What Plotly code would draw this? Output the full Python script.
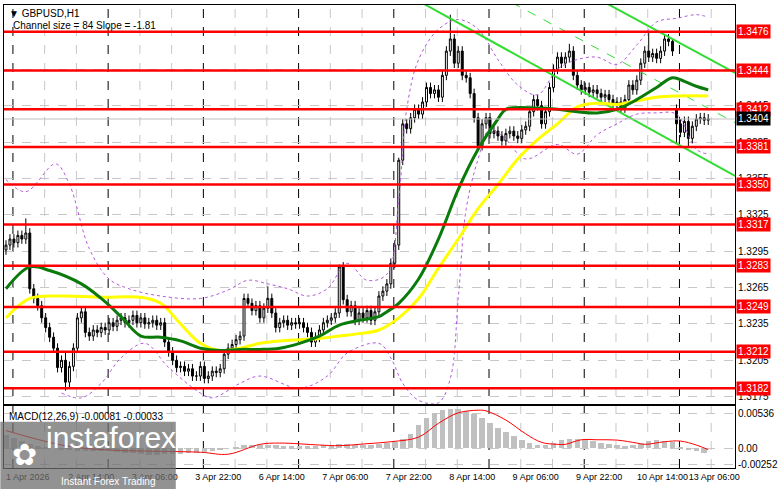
import plotly.graph_objects as go
from plotly.subplots import make_subplots

# hourly closes, one per bar (bar index = position on the chart)
closes = [
    1.3300, 1.3305, 1.3302, 1.3308, 1.3305, 1.3310, 1.3264, 1.3256, 1.3250, 1.3240,
    1.3232, 1.3224, 1.3215, 1.3199, 1.3205, 1.3187, 1.3200, 1.3215, 1.3240, 1.3245,
    1.3228, 1.3225, 1.3230, 1.3228, 1.3232, 1.3230, 1.3236, 1.3233, 1.3238, 1.3240,
    1.3236, 1.3238, 1.3242, 1.3236, 1.3240, 1.3235, 1.3236, 1.3238, 1.3234, 1.3236,
    1.3220, 1.3212, 1.3205, 1.3199, 1.3200, 1.3196, 1.3198, 1.3192, 1.3192, 1.3200,
    1.3190, 1.3192, 1.3196, 1.3195, 1.3198, 1.3210, 1.3215, 1.3218, 1.3222, 1.3225,
    1.3256, 1.3252, 1.3246, 1.3250, 1.3240, 1.3248, 1.3256, 1.3244, 1.3232, 1.3236,
    1.3238, 1.3234, 1.3236, 1.3235, 1.3236, 1.3232, 1.3228, 1.3220, 1.3224, 1.3230,
    1.3236, 1.3238, 1.3240, 1.3244, 1.3282, 1.3255, 1.3245, 1.3250, 1.3238, 1.3244,
    1.3240, 1.3246, 1.3238, 1.3245, 1.3258, 1.3262, 1.3268, 1.3285, 1.3300, 1.3370,
    1.3400, 1.3396, 1.3405, 1.3412, 1.3408, 1.3418, 1.3430, 1.3425, 1.3428, 1.3422,
    1.3440, 1.3460, 1.3470, 1.3450, 1.3460, 1.3440, 1.3438, 1.3425, 1.3405, 1.3382,
    1.3400, 1.3405, 1.3392, 1.3394, 1.3390, 1.3386, 1.3392, 1.3394, 1.3390, 1.3388,
    1.3395, 1.3398, 1.3410, 1.3420, 1.3415, 1.3400, 1.3410, 1.3430, 1.3445, 1.3455,
    1.3450, 1.3455, 1.3460, 1.3440, 1.3432, 1.3428, 1.3430, 1.3426, 1.3428, 1.3425,
    1.3422, 1.3424, 1.3420, 1.3416, 1.3418, 1.3413, 1.3420, 1.3432, 1.3428, 1.3436,
    1.3450, 1.3460, 1.3455, 1.3458, 1.3454, 1.3460, 1.3470, 1.3468, 1.3460, 1.3400,
    1.3393, 1.3402, 1.3388, 1.3398, 1.3404, 1.3405, 1.3403, 1.3404,
]
first_open = 1.3296
gap_open = {169: 1.3412}
wick = 0.0004
high_over = {5: 1.3322, 15: 1.3212, 66: 1.3266, 84: 1.3284, 112: 1.3490, 142: 1.3466,
             162: 1.3476, 168: 1.3470, 99: 1.3372}
low_over = {15: 1.3180, 50: 1.3186, 119: 1.3378, 169: 1.3384, 172: 1.3380}

ma_green_x = [0, 6, 11, 19, 24, 29, 34, 39, 44, 49, 54, 59, 64, 69, 74, 79, 84, 89, 94, 96, 99,
              104, 109, 114, 119, 124, 126, 134, 139, 144, 149, 154, 159, 164, 168, 171, 174, 177]
ma_green = [1.3264, 1.3282, 1.3279, 1.3268, 1.3256, 1.3241, 1.3225, 1.3224, 1.3221, 1.3215,
            1.3213, 1.3214, 1.3214, 1.3215, 1.3219, 1.3225, 1.3234, 1.3238, 1.3241, 1.3245,
            1.3252, 1.3272, 1.3305, 1.3346, 1.3379, 1.3404, 1.3412, 1.3413, 1.3412, 1.3410,
            1.3409, 1.3412, 1.3420, 1.3430, 1.3438, 1.3435, 1.3431, 1.3428]
ma_yellow_x = [0, 6, 14, 24, 34, 39, 44, 49, 54, 59, 64, 69, 74, 79, 84, 89, 94, 99, 104, 109,
               114, 119, 124, 129, 134, 139, 144, 149, 154, 159, 164, 169, 177]
ma_yellow = [1.3240, 1.3256, 1.3258, 1.3257, 1.3257, 1.3252, 1.3235, 1.3219, 1.3213, 1.3215,
             1.3219, 1.3221, 1.3222, 1.3223, 1.3225, 1.3227, 1.3230, 1.3240, 1.3256, 1.3281,
             1.3305, 1.3330, 1.3350, 1.3371, 1.3387, 1.3400, 1.3414, 1.3417, 1.3416, 1.3419,
             1.3422, 1.3423, 1.3423]
bb_up_x = [0, 5, 12.5, 16, 21, 26, 31, 39, 49, 56, 61, 66, 71, 76, 81, 86, 91, 96, 99, 101, 104,
           109, 114, 119, 124, 129, 134, 139, 144, 149, 154, 159, 164, 169, 174, 177]
bb_up = [1.3354, 1.3344, 1.3367, 1.3350, 1.3297, 1.3272, 1.3264, 1.3258, 1.3256, 1.3263, 1.3271,
         1.3268, 1.3264, 1.3258, 1.3264, 1.3285, 1.3271, 1.3276, 1.3338, 1.3412, 1.3453, 1.3478,
         1.3486, 1.3478, 1.3453, 1.3432, 1.3424, 1.3445, 1.3453, 1.3455, 1.3449, 1.3465, 1.3484,
         1.3487, 1.3490, 1.3488]
bb_lo_x = [14, 19, 24, 29, 35, 41, 49, 52, 59, 64, 74, 81, 86, 94, 97, 100, 104, 109, 112, 114,
           116, 119, 122, 126, 131, 139, 144, 149, 154, 159, 164, 169, 174, 177]
bb_lo = [1.3178, 1.3174, 1.3186, 1.3207, 1.3219, 1.3199, 1.3178, 1.3174, 1.3186, 1.3192, 1.3182,
         1.3192, 1.3211, 1.3219, 1.3207, 1.3186, 1.3172, 1.3170, 1.3190, 1.3256, 1.3330, 1.3371,
         1.3396, 1.3387, 1.3371, 1.3383, 1.3375, 1.3391, 1.3400, 1.3408, 1.3409, 1.3408, 1.3379,
         1.3375]

# channel lines: (bar, price) endpoints
chan_lower = [(104.75, 1.3500), (183.75, 1.3357)]
chan_upper = [(151.0, 1.3500), (183.75, 1.3442)]
chan_mid = [(127.5, 1.3500), (183.75, 1.3401)]

levels = [1.3476, 1.3444, 1.3412, 1.3381, 1.3350, 1.3317, 1.3283, 1.3249, 1.3212, 1.3182]
last_price = 1.3404

# MACD histogram every 2 bars, in 1e-4
macd_hist = [20, 15, 10, 6, 3, 1, 0, -2, -3, -4, -4, -4, -5, -5, -6, -7, -8, -9, -10, -10, -9,
             -9, -9, -8, -7, -6, -4, -2, 0, 2, 4,
             5, 5, 5, 4, 3, 3, 3, 3, 3, 4,
             5, 6, 6, 5, 5, 5, 6, 7, 9,
             14, 22, 35, 46, 54, 58, 59, 59, 57, 52, 45, 38, 30, 24, 18, 12, 8, 5, 5, 8,
             12, 13, 13, 12, 10, 8, 6, 4, 3, 4, 8, 11, 12, 11, 9, 1, -3, -5, -8]
sig_x = [0, 14, 24, 49, 56, 64, 69, 79, 84, 91, 97, 104, 109, 114, 119, 121, 126, 131, 135, 139,
         141, 145, 149, 154, 159, 161, 166, 170, 174, 177]
sig = [27, 5, -2, -6, -9, 6, 8, 5, 4, 7, 10, 17, 38, 54, 58, 57, 43, 22, 9, 6, 6, 13, 13, 12.5,
       8, 6, 10, 11, 5, -2]

tick_bars = [5.5, 21.5, 37.5, 53.5, 69.5, 85.5, 101.5, 117.5, 133.5, 149.5, 165.5, 178.5]
tick_text = ["1 Apr 2026", "2 Apr 14:00", "3 Apr 06:00", "3 Apr 22:00", "6 Apr 14:00",
             "7 Apr 06:00", "7 Apr 22:00", "8 Apr 14:00", "9 Apr 06:00", "9 Apr 22:00",
             "10 Apr 14:00", "13 Apr 06:00"]

# build OHLC
bars = list(range(len(closes)))
opens, highs, lows = [], [], []
prev = first_open
for i, c in enumerate(closes):
    o = gap_open.get(i, prev)
    opens.append(o)
    highs.append(high_over.get(i, max(o, c) + wick))
    lows.append(low_over.get(i, min(o, c) - wick))
    prev = c

FONT = 'Liberation Sans'

fig = make_subplots(rows=2, cols=1, shared_xaxes=True, vertical_spacing=0.005,
                    row_heights=[0.866, 0.134])

fig.add_trace(go.Scatter(x=bb_up_x, y=bb_up, mode='lines', line=dict(color='#b45adc', width=1, dash='dot', shape='spline')), 1, 1)
fig.add_trace(go.Scatter(x=bb_lo_x, y=bb_lo, mode='lines', line=dict(color='#b45adc', width=1, dash='dot', shape='spline')), 1, 1)

for lv in levels:
    fig.add_hline(y=lv, line=dict(color='#ff0000', width=2.5), row=1, col=1)
fig.add_hline(y=last_price, line=dict(color='#c0c0c0', width=1), row=1, col=1)

for pts, dash, w in [(chan_lower, 'solid', 2), (chan_upper, 'solid', 2), (chan_mid, 'dash', 1)]:
    fig.add_trace(go.Scatter(x=[p[0] for p in pts], y=[p[1] for p in pts], mode='lines',
                             line=dict(color='#32dc32', width=w, dash=dash)), 1, 1)

fig.add_trace(go.Scatter(x=ma_yellow_x, y=ma_yellow, mode='lines', line=dict(color='#ffff00', width=3, shape='spline')), 1, 1)
fig.add_trace(go.Scatter(x=ma_green_x, y=ma_green, mode='lines', line=dict(color='#0a7a0a', width=3, shape='spline')), 1, 1)

fig.add_trace(go.Candlestick(x=bars, open=opens, high=highs, low=lows, close=closes,
                             increasing=dict(line=dict(color='black', width=1), fillcolor='white'),
                             decreasing=dict(line=dict(color='black', width=1), fillcolor='black'),
                             whiskerwidth=0), 1, 1)

fig.add_trace(go.Bar(x=[2 * k for k in range(len(macd_hist))], y=[v / 10000 for v in macd_hist],
                     marker=dict(color='#c0c0c0', line_width=0), width=1.4), 2, 1)
fig.add_trace(go.Scatter(x=sig_x, y=[v / 10000 for v in sig], mode='lines',
                         line=dict(color='#ff0000', width=1, shape='spline')), 2, 1)

# vertical grid
shapes = []
for k in range(23):
    xb = 1.75 + 8 * k
    dark = (k % 3 == 0)
    shapes.append(dict(type='line', xref='x', yref='paper', x0=xb, x1=xb, y0=0, y1=1,
                       line=dict(color='black' if dark else '#c8c8c8', width=1, dash='dash'),
                       layer='below'))
# watermark box
shapes.append(dict(type='rect', xref='paper', yref='paper', x0=-0.005, x1=0.235, y0=-0.06, y1=0.1,
                   fillcolor='rgba(110,110,110,0.75)', line_width=0))
fig.update_layout(shapes=fig.layout.shapes + tuple(shapes))

annotations = []
for lv in levels:
    annotations.append(dict(x=1.002, xref='paper', y=lv, yref='y', text=f"{lv:.4f}", showarrow=False,
                            xanchor='left', bgcolor='#ff0000', font=dict(color='white', size=10, family=FONT),
                            borderpad=1))
annotations.append(dict(x=1.002, xref='paper', y=last_price, yref='y', text=f"{last_price:.4f}", showarrow=False,
                        xanchor='left', bgcolor='black', font=dict(color='white', size=10, family=FONT),
                        borderpad=1))
annotations += [
    dict(x=0.004, y=0.998, xref='paper', yref='paper', text="▼ GBPUSD,H1", showarrow=False,
         xanchor='left', yanchor='top', font=dict(size=10, color='black', family=FONT)),
    dict(x=0.01, y=0.972, xref='paper', yref='paper', text="Channel size = 84 Slope = -1.81", showarrow=False,
         xanchor='left', yanchor='top', font=dict(size=10, color='black', family=FONT)),
    dict(x=0.004, y=0.128, xref='paper', yref='paper', text="MACD(12,26,9) -0.00081 -0.00033", showarrow=False,
         xanchor='left', yanchor='top', font=dict(size=10, color='black', family=FONT)),
    dict(x=0.055, y=0.065, xref='paper', yref='paper', text="instaforex", showarrow=False,
         xanchor='left', yanchor='middle', font=dict(size=30, color='white', family=FONT)),
    dict(x=0.075, y=-0.03, xref='paper', yref='paper', text="Instant Forex Trading", showarrow=False,
         xanchor='left', yanchor='middle', font=dict(size=10, color='white', family=FONT)),
    dict(x=0.028, y=0.03, xref='paper', yref='paper', text="✿", showarrow=False,
         xanchor='center', yanchor='middle', font=dict(size=30, color='white')),
]
fig.update_layout(annotations=annotations)

axis_common = dict(showline=True, linecolor='black', linewidth=1, mirror=True, zeroline=False)
fig.update_xaxes(range=[-0.5, 183.75], showgrid=False, rangeslider_visible=False, **axis_common)
fig.update_xaxes(tickvals=tick_bars, ticktext=tick_text, ticks='', tickangle=0,
                 tickfont=dict(size=9, family=FONT), row=2, col=1)
fig.update_yaxes(side='right', range=[1.3169, 1.3498], tickvals=[1.3175 + 0.003 * k for k in range(11)],
                 ticktext=[f"{1.3175 + 0.003 * k:.4f}" for k in range(11)], showgrid=True,
                 gridcolor='#c8c8c8', griddash='dash', tickfont=dict(size=10, family=FONT), ticks='',
                 row=1, col=1, **axis_common)
fig.update_yaxes(side='right', range=[-0.003, 0.0064], tickvals=[0.00536, 0, -0.00252],
                 ticktext=["0.00536", "0.00", "-0.00252"], showgrid=True, gridcolor='#c8c8c8',
                 griddash='dash', tickfont=dict(size=10, family=FONT), ticks='', row=2, col=1, **axis_common)

fig.update_layout(width=781, height=489, margin=dict(l=3, r=41, t=5, b=21),
                  paper_bgcolor='white', plot_bgcolor='white', showlegend=False,
                  font=dict(family=FONT, color='black'), bargap=0)

# page body margin would push the figure out of the window
fig.write_html("out.html", config={'displayModeBar': False},
               post_script="document.body.style.margin='0';document.body.style.overflow='hidden';")
